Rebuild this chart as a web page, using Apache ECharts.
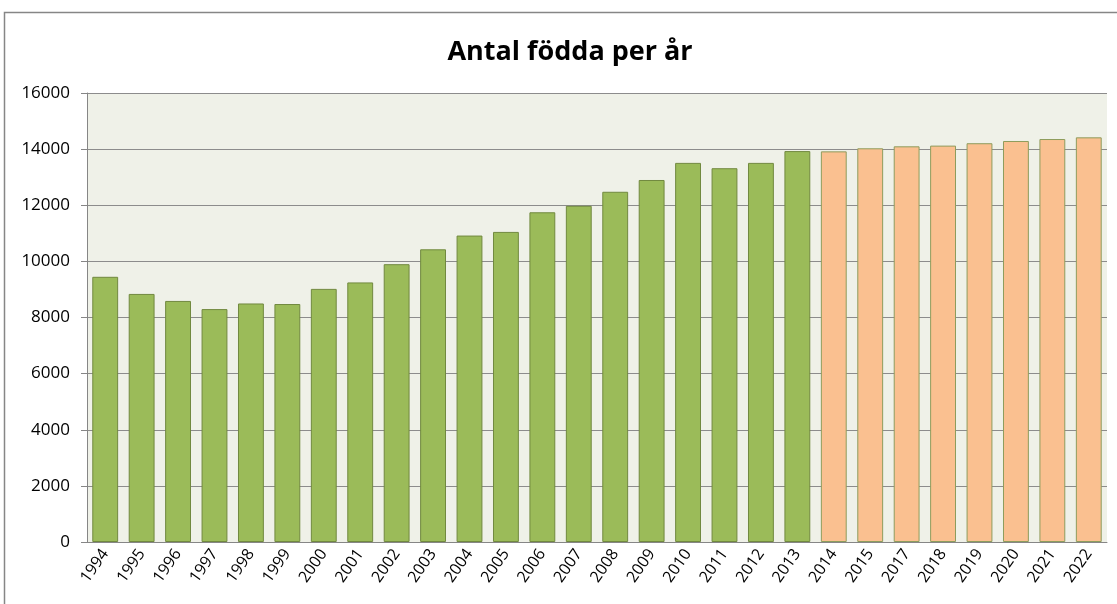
<!DOCTYPE html>
<html>
<head>
<meta charset="utf-8">
<script src="https://cdn.jsdelivr.net/npm/echarts@6/dist/echarts.min.js"></script>
<style>
  html, body { margin: 0; padding: 0; background: #fff; }
  #chart { width: 1117px; height: 604px; }
</style>
</head>
<body>
<div id="chart"></div>
<script>
var years = ["1994", "1995", "1996", "1997", "1998", "1999", "2000", "2001", "2002", "2003",
  "2004", "2005", "2006", "2007", "2008", "2009", "2010", "2011", "2012", "2013",
  "2014", "2015", "2017", "2018", "2019", "2020", "2021", "2022"];
// utfall (grön) och prognos (orange)
var utfall = [9450, 8840, 8590, 8300, 8500, 8480, 9020, 9250, 9900, 10430,
  10920, 11050, 11750, 11980, 12480, 12900, 13510, 13320, 13510, 13930];
var prognos = [13920, 14030, 14100, 14125, 14210, 14290, 14360, 14420];
var yTicks = [0, 2000, 4000, 6000, 8000, 10000, 12000, 14000, 16000];

var chart = echarts.init(document.getElementById("chart"));

var data = [];
utfall.forEach(function(v) {
  data.push({ value: v, itemStyle: { color: "#9BBB59", borderColor: "#71893F" } });
});
prognos.forEach(function(v) {
  data.push({ value: v, itemStyle: { color: "#FAC090", borderColor: "#8E9C5C" } });
});

var option = {
  backgroundColor: "#fff",
  animation: false,
  title: {
    text: "Antal födda per år",
    left: 565,
    top: 34,
    textAlign: "center",
    textStyle: { fontFamily: "Open Sans", fontWeight: "bold", fontSize: 27, color: "#000" }
  },
  graphic: [{
    type: "rect",
    shape: { x: 4.5, y: 12.5, width: 1200, height: 700 },
    style: { fill: "none", stroke: "#868686", lineWidth: 1.5 },
    silent: true,
    z: 0
  }],
  grid: {
    left: 87, right: 10, top: 93, bottom: 62,
    show: true, backgroundColor: "#EFF1E8", borderWidth: 0
  },
  xAxis: {
    type: "category",
    data: years,
    axisLine: { lineStyle: { color: "#868686", width: 1 } },
    axisTick: { length: 6, lineStyle: { color: "#868686" } },
    axisLabel: {
      rotate: 55, interval: 0, margin: 9,
      fontFamily: "Open Sans", fontSize: 16, color: "#000"
    }
  },
  yAxis: {
    type: "value",
    min: yTicks[0],
    max: yTicks[yTicks.length - 1],
    interval: 2000,
    axisLine: { show: true, lineStyle: { color: "#868686", width: 1 } },
    axisTick: { show: true, length: 6, lineStyle: { color: "#868686" } },
    axisLabel: {
      fontFamily: "Open Sans", fontSize: 17, color: "#000", margin: 17,
      formatter: function(v) { return String(v); }
    },
    splitLine: { lineStyle: { color: "#8C8C8C", width: 1 } }
  },
  series: [{
    type: "bar",
    data: data,
    barCategoryGap: "29%",
    itemStyle: { borderWidth: 1 }
  }]
};
chart.setOption(option);
window.addEventListener("resize", chart.resize);
</script>
</body>
</html>
